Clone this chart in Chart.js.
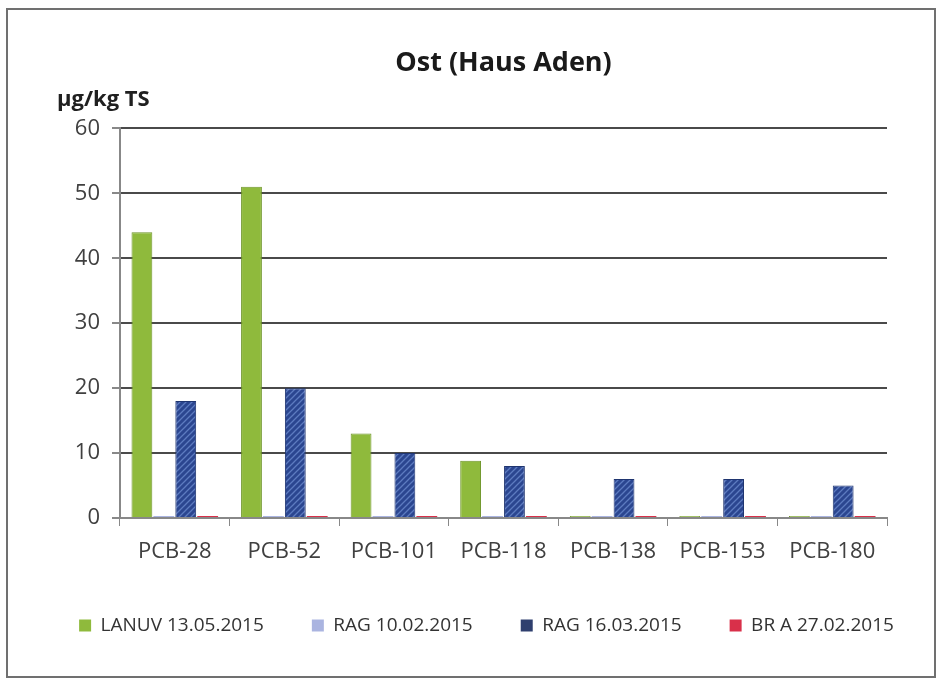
<!DOCTYPE html>
<html><head><meta charset="utf-8">
<script src="https://cdn.jsdelivr.net/npm/chart.js@4"></script>
<style>
html,body{margin:0;padding:0;background:#fff;}
#box{position:absolute;left:6px;top:8px;width:930px;height:670px;border:2px solid #707070;box-sizing:border-box;}
#c{position:absolute;left:0;top:0;}
</style></head><body>
<div id="box"></div>
<canvas id="c" width="945" height="685"></canvas>
<script>
const categories = ["PCB-28","PCB-52","PCB-101","PCB-118","PCB-138","PCB-153","PCB-180"];
const lanuv = [44, 51, 13, 8.8, 0.3, 0.3, 0.3];
const rag1002 = [0.3, 0.3, 0.3, 0.3, 0.3, 0.3, 0.3];
const rag1603 = [18, 20, 10, 8, 6, 6, 5];
const bra = [0.3, 0.3, 0.3, 0.3, 0.3, 0.3, 0.3];
const yTicks = [0,10,20,30,40,50,60];
const seriesNames = ["LANUV 13.05.2015","RAG 10.02.2015","RAG 16.03.2015","BR A 27.02.2015"];
const legendColors = ['#8fba3c','#aab4e0','#2f3f6e','#d9304a'];

function hatch(){
  const p = document.createElement('canvas');
  p.width = 6; p.height = 6;
  const g = p.getContext('2d');
  g.fillStyle = '#2b4690'; g.fillRect(0,0,6,6);
  g.strokeStyle = '#5d7bc0'; g.lineWidth = 1.3;
  g.beginPath();
  g.moveTo(0,6); g.lineTo(6,0);
  g.moveTo(-3,3); g.lineTo(3,-3);
  g.moveTo(3,9); g.lineTo(9,3);
  g.stroke();
  return g.createPattern(p,'repeat');
}

const unitLabel = {
  id:'unitLabel',
  afterDraw(chart){
    const ctx = chart.ctx;
    ctx.save();
    ctx.font = 'bold 22px "Open Sans", sans-serif';
    ctx.fillStyle = '#202020';
    ctx.textBaseline = 'middle';
    ctx.fillText('µg/kg TS', 57, 100);
    ctx.restore();
  }
};

new Chart(document.getElementById('c'), {
  type:'bar',
  data:{
    labels: categories,
    datasets:[
      {label:seriesNames[0], data:lanuv, backgroundColor:'#8fba3c', borderColor:'#6d9428', borderWidth:1},
      {label:seriesNames[1], data:rag1002, backgroundColor:'#aab4e0', borderWidth:0},
      {label:seriesNames[2], data:rag1603, backgroundColor:hatch(), borderColor:'#1f3570', borderWidth:1},
      {label:seriesNames[3], data:bra, backgroundColor:'#d9304a', borderWidth:0}
    ]
  },
  options:{
    responsive:false,
    animation:false,
    layout:{padding:{left:30,right:2,top:0,bottom:40}},
    categoryPercentage:0.8,
    barPercentage:0.95,
    plugins:{
      title:{display:true,fullSize:false,text:'Ost (Haus Aden)',color:'#1a1a1a',font:{family:'"Open Sans", sans-serif',size:27,weight:'bold'},padding:{top:47,bottom:49}},
      legend:{position:'bottom',labels:{boxWidth:12,boxHeight:12,padding:48,color:'#333',font:{family:'"Open Sans", sans-serif',size:19},
        generateLabels(chart){
          return chart.data.datasets.map((d,i)=>({text:d.label,fillStyle:legendColors[i],strokeStyle:legendColors[i],lineWidth:0,datasetIndex:i,fontColor:'#333'}));
        }}},
      tooltip:{enabled:false}
    },
    scales:{
      x:{
        afterFit(axis){axis.height = 50;},
        grid:{display:true,drawOnChartArea:false,drawTicks:true,tickLength:8,color:'#888'},
        border:{color:'#888',width:2},
        ticks:{color:'#404040',font:{family:'"Open Sans", sans-serif',size:22},padding:13}
      },
      y:{
        min:0,max:60,
        afterBuildTicks(axis){axis.ticks = yTicks.map(v=>({value:v}));},
        afterFit(axis){axis.width = 90;},
        grid:{color:'#4a4a4a',lineWidth:2,tickLength:8,tickColor:'#888'},
        border:{color:'#888',width:2},
        ticks:{color:'#404040',font:{family:'"Open Sans", sans-serif',size:22},padding:12}
      },
      ySpace:{
        position:'right',min:0,max:60,
        afterFit(axis){axis.width = 56;},
        grid:{display:false},
        border:{display:false},
        ticks:{display:false}
      }
    }
  },
  plugins:[unitLabel]
});
</script>
</body></html>
